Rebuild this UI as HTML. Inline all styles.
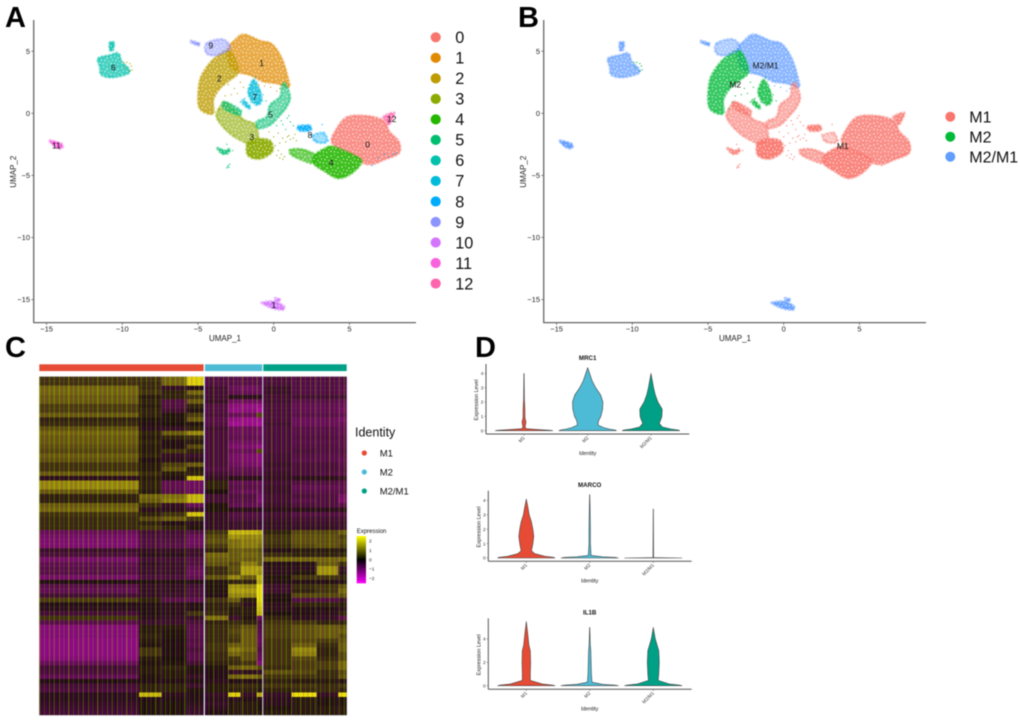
<!DOCTYPE html>
<html lang="en">
<head>
<meta charset="utf-8">
<title>UMAP clusters, heatmap and violin plots</title>
<style>
html,body{margin:0;padding:0;background:#fff;}
svg{display:block;font-family:"Liberation Sans",sans-serif;filter:blur(0.4px);}
</style>
</head>
<body>
<svg id="figure" xmlns="http://www.w3.org/2000/svg" width="1020" height="720" viewBox="0 0 1020 720">
  <defs>
    <pattern id="speck" patternUnits="userSpaceOnUse" width="11" height="11">
      <circle cx="1" cy="2" r=".6" fill="#fff"/><circle cx="4.5" cy="1" r=".5" fill="#fff"/>
      <circle cx="8" cy="3" r=".65" fill="#fff"/><circle cx="2.5" cy="5" r=".55" fill="#fff"/>
      <circle cx="6" cy="5.5" r=".6" fill="#fff"/><circle cx="9.8" cy="6.5" r=".5" fill="#fff"/>
      <circle cx="1" cy="8.4" r=".6" fill="#fff"/><circle cx="4.4" cy="8.8" r=".6" fill="#fff"/>
      <circle cx="7.8" cy="9.4" r=".55" fill="#fff"/>
    </pattern>
    <pattern id="stripes" patternUnits="userSpaceOnUse" width="29" height="9">
      <rect x="1" width="1" height="9" fill="#e0e000" opacity=".3"/><rect x="3" width="1.4" height="9" fill="#c000c0" opacity=".24"/>
      <rect x="5.5" width="1" height="9" fill="#e0e000" opacity=".2"/><rect x="8" width="1" height="9" fill="#c000c0" opacity=".2"/>
      <rect x="10" width="1.5" height="9" fill="#e0e000" opacity=".3"/><rect x="13" width="1" height="9" fill="#c000c0" opacity=".26"/>
      <rect x="15" width="1" height="9" fill="#e0e000" opacity=".22"/><rect x="17" width="1.5" height="9" fill="#c000c0" opacity=".2"/>
      <rect x="20" width="1" height="9" fill="#e0e000" opacity=".3"/><rect x="22" width="1" height="9" fill="#c000c0" opacity=".24"/>
      <rect x="24.5" width="1.4" height="9" fill="#e0e000" opacity=".24"/><rect x="27" width="1" height="9" fill="#c000c0" opacity=".22"/>
    </pattern>
    <linearGradient id="expr-gradient" x1="0" y1="0" x2="0" y2="1">
      <stop offset="0" stop-color="#ffff00"/><stop offset=".5" stop-color="#000"/><stop offset="1" stop-color="#ff00ff"/>
    </linearGradient>
  </defs>

  <text x="5" y="27" font-size="29" font-weight="bold">A</text>
  <text x="518" y="27" font-size="29" font-weight="bold">B</text>
  <text x="5" y="357" font-size="29" font-weight="bold">C</text>
  <text x="475" y="357" font-size="29" font-weight="bold">D</text>

  <g id="panel-a"></g>
  <g id="panel-b" transform="translate(510,0)"></g>
  <g id="panel-c"></g>
  <g id="panel-d"></g>
</svg>

<script>
// ---------- UMAP data (UMAP coordinates) ----------
const umapXTicks = [-15, -10, -5, 0, 5];
const umapYTicks = [5, 0, -5, -10, -15];
const clusterNames = ['0','1','2','3','4','5','6','7','8','9','10','11','12'];
const clusterColors = ['#F8766D','#E18A00','#BE9C00','#8CAB00','#24B700','#00BE70','#00C1AB','#00BBDA','#00ACFC','#8B93FF','#D575FE','#F962DD','#FF65AC'];
const identityNames = ['M1','M2','M2/M1'];
const identityColors = ['#F8766D','#00BA38','#619CFF'];
const clusterIdentity = [0,2,1,0,0,0,2,1,0,2,2,2,0];
const clusterRegions = [
  {cluster:0, density:.8, outline:[[4.82,-.32],[6.15,-.21],[7.25,-.59],[7.64,-1.47],[8.26,-2.28],[8.26,-3.22],[7.25,-3.75],[6.59,-4.08],[5.93,-4.02],[5.26,-3.35],[4.38,-2.95],[3.83,-2.28],[4.05,-1.47]]},
  {cluster:1, density:.72, outline:[[-2.67,5.76],[-2,6.35],[-.9,5.84],[-.13,5.58],[.53,4.42],[.97,2.68],[.97,2.09],[.2,2.41],[-.68,2.55],[-1.56,3.08],[-2.44,3.35],[-2.89,3.89],[-3.1,5.09]]},
  {cluster:2, density:.78, outline:[[-3.1,5.09],[-2.67,4.69],[-2.33,3.35],[-2.89,2.68],[-3.55,2.01],[-3.99,1.07],[-3.99,0],[-4.65,.13],[-4.98,.8],[-4.87,2.68],[-4.32,3.89],[-3.77,4.56]]},
  {cluster:3, density:.62, outline:[[-3.77,0],[-3.2,.85],[-2.5,.2],[-2,-.5],[-1.2,-.95],[-1.05,-2.14],[-1.67,-2.41],[-2,-2.28],[-2.78,-1.74],[-3.55,-.8]]},
  {cluster:3, density:.92, outline:[[-1.7,-2.35],[-.9,-2.05],[-.2,-2.25],[-.1,-3.08],[-.9,-3.66],[-1.7,-3.4]]},
  {cluster:4, density:.88, outline:[[2.73,-3.35],[3.39,-2.82],[3.94,-2.68],[5.26,-3.35],[5.81,-3.89],[5.15,-4.83],[4.27,-5.23],[3.39,-4.69],[2.62,-4.02]]},
  {cluster:4, density:.65, outline:[[1.08,-2.95],[1.85,-2.9],[2.73,-3.35],[2.62,-4.02],[1.85,-3.75],[1.19,-3.35]]},
  {cluster:5, density:.58, outline:[[.75,2.41],[1.08,1.34],[.86,.54],[.42,-.13],[-.24,-.94],[-1.01,-1.21],[-1.12,-.67],[-.46,-.27],[-.24,.67],[.42,1.34],[.53,2.14]]},
  {cluster:5, density:.65, outline:[[-3.28,.94],[-2.22,.27],[-2.33,-.13],[-3.28,.4]]},
  {cluster:5, density:.85, outline:[[-3.72,-2.8],[-3.2,-3],[-2.9,-2.85],[-3,-3.2],[-3.4,-3.25]]},
  {cluster:6, density:.72, outline:[[-11.59,4.42],[-10.81,4.69],[-10.26,4.83],[-10.04,4.16],[-9.6,3.62],[-9.6,3.22],[-10.59,2.9],[-11.37,3.08],[-11.48,3.75]]},
  {cluster:6, density:.85, outline:[[-10.83,5.68],[-10.55,5.68],[-10.62,5.09],[-10.81,5.09]]},
  {cluster:7, density:.8, outline:[[-1.34,2.68],[-1.01,2.14],[-.79,1.07],[-1.12,.67],[-1.56,1.21],[-1.67,1.88]]},
  {cluster:7, density:.8, outline:[[-2,1.07],[-1.56,.54],[-1.67,.4],[-2.05,.8]]},
  {cluster:8, density:.9, outline:[[1.63,-1.02],[2.4,-1.02],[2.4,-1.39],[1.69,-1.39]]},
  {cluster:8, density:.4, outline:[[2.6,-1.8],[3.3,-1.6],[3.5,-2.3],[2.8,-2.3]]},
  {cluster:9, density:.9, outline:[[-5.46,5.84],[-4.91,5.63],[-4.98,5.47],[-5.42,5.68]]},
  {cluster:9, density:.5, outline:[[-4.43,5.63],[-3.37,5.95],[-2.89,5.23],[-3.77,4.69],[-4.43,4.83]]},
  {cluster:10, density:.9, outline:[[-.75,-15.23],[-.02,-15.15],[.64,-15.5],[.6,-15.82],[-.13,-15.68],[-.68,-15.36]]},
  {cluster:10, density:.8, outline:[[.09,-14.88],[.46,-15.01],[.2,-15.15]]},
  {cluster:11, density:.95, outline:[[-14.78,-2.2],[-13.99,-2.47],[-14.03,-2.84],[-14.45,-2.68]]},
  {cluster:12, density:.85, outline:[[7.25,-.27],[7.95,.05],[7.8,-.54],[7.58,-.94],[7.47,-.67]]}
];
const strayCluster = [3,3,3,3,3,3,3,3,3,3,3,3,3,3,3,3,3,3,3, 5,5,5,5,5,5,5,5,5,5,5,5,5,5,5, 8,8,8,8,8,8,8,8,8,8,8,8,8, 7,7,7,7,7,7,7,7,7,7, 2,2,2,2,2,2,2,2,2, 1,1,1,1,1, 2,2,2,2,2,2,2];
const strayX = [.6,.9,1.1,1.3,1.5,.8,1,1.4,.2,.4,.5,.7,.3,.6,.1,.4,-.3,0,.3, .9,1.1,1.3,.6,.8,1,.2,.5,-3.1,-2.7,-3,-3.1,-2.9,-3.05,-2.95, 2,2.3,3.2,3.3,2.8,2.5,3.6,7.9,8.1,7.6,6.9,7.3,6.5, -1.2,-1.4,-.9,-.7,-1.6,-1.9,-2.2,-1,-.5,-1.5, -3,-2.6,-2.4,-2.8,-3.2,-2.2,-3.4,-3.6,-2, .4,-.2,-.6,-1,.2, -9.9,-9.7,-9.5,-9.4,-9.35,-9.5,-9.8];
const strayY = [-2,-1.9,-2.1,-2,-2.2,-2.3,-1.8,-1.7,-3.4,-3.6,-3.3,-3.5,-3,-3.7,-2.6,-2.4,-1.5,-1.9,-1.6, -.4,-.7,-1,-.9,-1.3,-.2,-1,-.6,-2.5,-3,-4.2,-4.4,-4.1,-4.3,-4.35, -1,-.9,-.9,-1.5,-2.2,-1.7,-2.2,-3.3,-3.2,-3.5,-3.6,-3.3,-4.2, 2.9,2.3,1.8,1.5,1.6,1.2,.9,.8,1,.9, 2.3,2,1.6,1.5,1.4,2.5,.9,.4,2.1, 2,2.1,2.2,2.3,1.8, 4.1,4.1,4,3.8,3.5,3.4,3.7];
const clusterLabelX = [6.2,-.8,-3.6,-1.45,3.8,-.2,-10.6,-1.25,2.4,-4.15,0,-14.35,7.8];
const clusterLabelY = [-2.5,4.05,2.8,-1.9,-3.95,-.1,3.7,1.3,-1.75,5.45,-15.45,-2.6,-.45];
const clusterLabelText = ['0','1','2','3','4','5','6','7','8','9','1','11','12'];
const identityLabelX = [3.9,-3.2,-1.2];
const identityLabelY = [-2.65,2.3,3.85];

// ---------- Heatmap data (scaled expression, read per row and column block) ----------
const heatmapTicks = [2, 1, 0, -1, -2];
const heatmapGroups = ['M1','M2','M2/M1'];
const heatmapRows = [
 [.5,.5,1,1.9,-.7,-.8,-.8,-.8,-.6,-.7,-.7,-.7],
 [.5,.4,1,1.9,-.7,-.8,-.8,-.8,-.6,-.7,-.7,-.7],
 [1,.4,-.3,-.1,-.5,-1,-1.1,-1,-.4,-.7,-.7,-.8],
 [1,.5,.3,1,-.5,-.9,-1,-1,-.4,-.7,-.7,-.8],
 [.9,.2,.3,.5,-.5,-.2,-.2,-.2,-.5,-.5,-.5,-.5],
 [.9,.3,-.7,.9,-.4,-1.1,-1.1,-1.1,-.5,-.8,-.8,-.9],
 [.6,.2,-.7,.3,-.7,-1.5,-1.6,-1.7,-.6,-.9,-.9,-1],
 [.6,.3,-.5,.1,-.7,-1.6,-1.5,-1.9,-.6,-.9,-.9,-1.1],
 [.9,.3,.1,.6,-.6,-1,-1,.7,-.6,-.8,-.8,-.9],
 [.3,.1,.1,.9,-.8,-1.6,-1.7,-1.7,-.6,-1,-1,-1.2],
 [.4,-.1,0,.1,-.7,-1.8,-1.7,-1.9,-.5,-1,-1,-1],
 [.8,-.2,-.3,.3,-.5,-1,-1,-1.1,-.6,-.8,-.8,-.9],
 [1,.3,.9,1.3,-.6,-1,-1,-1.2,-.6,-.8,-.8,-.9],
 [.9,.2,.3,.4,-.6,-.9,-.9,-1,-.6,-.7,-.7,-.8],
 [.9,.3,-.1,.2,-.6,-1.1,-1.1,-1.2,-.6,-.8,-.8,-.8],
 [.8,.2,-.1,.7,-.6,-1.3,-1.3,-1.6,-.6,-.7,-.7,-.8],
 [.7,.2,.5,.3,-.6,-1,-1,.7,-.6,-.6,-.7,-.7],
 [.9,.3,-.3,-.4,-.6,-1.2,-1.3,-1.5,-.5,-.7,-.8,-.8],
 [.8,-.1,-.2,-.2,-.6,-1.2,-1.3,-1.5,-.5,-.8,-.8,-.9],
 [.5,.2,.6,.9,-.6,-1.1,-1.2,-1.4,-.4,-.6,-.6,-.8],
 [.5,.2,.8,.2,-.7,-.9,-.9,-1,-.5,-.6,-.6,-.7],
 [.9,.4,.2,.3,-.5,-.8,-.8,-.9,-.4,-.6,-.7,-.8],
 [-.2,.2,-.1,1.8,-.3,-.2,-.2,-.2,-.3,-.2,-.2,-.3],
 [1.3,.3,-.9,-1.1,.3,-.9,-.9,-1,-.5,-.7,-.7,-.8],
 [1.3,.3,-.9,-1.1,.3,-.8,-.8,-.9,-.4,-.9,-.9,-.9],
 [.9,.2,-.8,-1,0,-.9,-1,-1,-.4,-.8,-.8,-.8],
 [.3,1,1.1,1.7,-.5,-.7,-.7,-1.2,-.5,-.6,-.7,-1.2],
 [.3,.9,1.2,1.7,-.5,-.8,-.8,-1.3,-.5,-.8,-.7,-1.3],
 [.9,.4,-.3,-1,.1,-.9,-.9,-1,-.4,-.6,-.7,-.8],
 [1,-.2,-.2,-.4,.1,-.2,-.2,-.2,-.2,-.2,-.2,-.2],
 [.5,.3,.5,1.8,-.3,-.7,-.7,-.7,-.5,-.7,-.7,-.7],
 [.4,.7,.9,.5,-.3,-.6,-.6,-.6,-.4,-.5,-.5,-.5],
 [.4,.3,-.1,-.2,-.3,-.4,-.4,-.4,-.3,-.4,-.4,-.4],
 [.4,.5,.3,.1,-.3,-.4,-.4,-.5,-.3,-.3,-.3,-.4],
 [-1,-.5,-.5,-.7,.5,1.7,1.7,1.6,.3,.7,.7,.9],
 [-1.2,-.6,-.6,-1,.7,1.4,1.3,1.3,.5,.8,.8,.6],
 [-1.3,-.7,-.7,-1.1,.8,1.1,1.2,1.2,.5,.8,.8,.7],
 [-1.3,-.7,-.8,-1,.6,1.1,1.2,1.1,.4,.7,.8,.6],
 [-.4,-.3,-.3,-.4,.3,.9,.9,.8,-.1,.2,.2,.1],
 [-.6,-.2,-.2,-.4,1,.9,1,.9,.4,.3,.3,.3],
 [-1.2,-.5,-.5,-.7,.9,.9,.9,.9,1,1,1,1],
 [-.9,-.3,-.4,-.7,.8,.7,1.2,.9,-.1,-.1,.9,.4],
 [-.8,-.4,-.4,-.9,.4,.8,1.5,1.5,-.2,-.2,1.4,-.3],
 [-.8,-.4,-.4,-1,.4,.7,1.5,1.4,-.2,.1,1.4,-.2],
 [-1.2,-.6,-.6,-.9,.8,1.3,.9,1.7,.1,.5,.5,.3],
 [-.1,-.1,-.1,-.1,.1,.3,.3,1.6,-.1,-.1,-.1,-.1],
 [-.8,-.3,-.3,-.5,.1,1.4,1.3,2,-.4,.4,.5,.8],
 [-.9,-.3,-.3,-.6,.1,1.5,1.5,2,-.4,.3,.5,1],
 [-.5,-.3,-.4,-.6,-.1,1.3,1.3,2,-.1,.7,.7,.8],
 [.6,.3,-.8,-.9,.5,.9,.2,2,0,-.7,-.7,-.4],
 [-.1,-.1,-.2,-.1,.3,.4,-.2,1.9,-.2,.3,.3,.2],
 [-.2,-.1,-.2,-.1,.3,.2,.2,1.8,-.2,-.1,-.1,-.2],
 [-.5,-.1,-.2,.5,.4,.2,.2,1.7,0,-.1,-.2,.3],
 [.5,-.2,-.3,-.3,1.1,-.4,.1,-1,.3,-.2,-.3,-.8],
 [-.8,-.4,-.4,-.6,.3,.4,.3,-.6,.5,.5,.3,.3],
 [-1.4,.2,.2,-.8,.4,.6,.8,-.7,.6,.8,.9,.8],
 [-1.4,.2,.1,-.8,.4,.7,.9,-.8,.6,.8,.9,.9],
 [-1.4,.3,.1,-.8,.4,.6,.9,-.9,.6,.8,.9,.7],
 [-1.5,.2,-.05,-.7,.4,.5,.9,-1,.5,.7,.6,.8],
 [-1.5,.1,-.1,-.8,.5,.9,.9,-.9,.5,.9,.4,.9],
 [-1.5,.5,-.05,-.6,.5,1.2,1,-.7,.5,1.3,.3,.9],
 [-1.5,.5,-.1,-.8,.4,1,.8,-.9,.5,1.2,.3,.7],
 [-1.4,.2,0,-.8,.4,.5,.8,-1,.5,.7,.4,.7],
 [-1,.1,.1,-.5,.3,.4,.5,-1.4,.5,.6,.6,1],
 [-.5,.2,.3,.1,.1,.9,1,.7,.4,.6,.6,1],
 [-.6,.2,.2,-.1,-.1,-.3,-.2,-.3,.8,.7,.4,.7],
 [-.9,.1,.2,-.3,-.1,1,1.1,.9,.5,.5,.4,.8],
 [-.1,-.1,-.1,-.1,-.2,-.1,-.1,-.1,.3,.2,.2,-.1],
 [-.5,.3,.3,-.4,.2,.4,.4,.3,.5,.5,.4,.5],
 [-.6,.3,.3,.1,.2,.3,.3,.2,.3,.4,.4,.3],
 [-.2,1.7,-.2,-.1,-.3,1.9,-.3,1.6,-.3,2,-.3,2],
 [-.2,-.1,-.1,-.1,-.2,-.2,-.1,-.2,-.2,.2,.1,.1],
 [-.3,.1,.1,-.2,-.3,.2,.2,.1,-.2,.2,.1,.1],
 [-.4,.1,.1,-.3,-.2,.2,.2,.1,.1,.2,.2,.2],
 [-.5,.1,.1,-.4,-.1,.2,.2,.2,.2,.2,.2,.2]
];

// ---------- Violin data: [expression level, relative half width] ----------
const violinGroups = ['M1','M2','M2/M1'];
const violinColors = ['#E64B35','#4DBBD5','#00A087'];
const mrc1Ticks = [0,1,2,3,4];
const mrc1M1 = [[0,1],[.03,.92],[.08,.5],[.14,.08],[.25,.04],[.6,.07],[.9,.035],[1.5,.03],[2.2,.014],[4,.004]];
const mrc1M2 = [[0,1],[.05,.95],[.12,.75],[.22,.55],[.4,.36],[.7,.38],[1,.46],[1.5,.52],[2,.53],[2.5,.45],[3,.28],[3.5,.15],[4.4,0]];
const mrc1M21 = [[0,1],[.05,.95],[.12,.7],[.25,.4],[.5,.29],[.8,.35],[1,.38],[1.5,.39],[2,.24],[2.5,.15],[3,.09],[4,0]];
const marcoTicks = [0,1,2,3,4];
const marcoM1 = [[0,1],[.05,.95],[.12,.65],[.3,.3],[.5,.18],[1,.23],[1.5,.26],[2,.23],[2.5,.18],[3,.1],[3.5,.06],[4.1,0]];
const marcoM2 = [[0,1],[.04,.9],[.08,.45],[.18,.05],[1,.025],[2,.025],[3,.018],[4.4,.004]];
const marcoM21 = [[0,1],[.03,.01],[3.4,.005]];
const il1bTicks = [0,2,4];
const il1bM1 = [[0,1],[.06,.9],[.15,.55],[.45,.14],[1,.14],[2,.15],[3,.14],[3.5,.09],[4.5,.05],[5.5,0]];
const il1bM2 = [[0,1],[.06,.85],[.12,.45],[.3,.08],[1,.06],[2,.05],[3,.04],[3.5,.02],[5,.003]];
const il1bM21 = [[0,1],[.06,.9],[.15,.55],[.45,.17],[1,.19],[2,.21],[3,.19],[4,.07],[5,0]];

// ---------- Helpers ----------
const SVG_NS = 'http://www.w3.org/2000/svg';
function make(tag, parent, attrs, text) {
  const node = document.createElementNS(SVG_NS, tag);
  for (const key in attrs) node.setAttribute(key, attrs[key]);
  if (text !== undefined) node.textContent = text;
  parent.appendChild(node);
  return node;
}
const umapX = v => 273.7 + 15.14 * v;
const umapY = v => 113.3 - 12.42 * v;
function smoothPath(outline) {
  const pts = outline.map(p => [umapX(p[0]), umapY(p[1])]);
  const n = pts.length;
  let d = 'M' + pts[0][0].toFixed(1) + ' ' + pts[0][1].toFixed(1);
  for (let i = 0; i < n; i++) {
    const p0 = pts[(i - 1 + n) % n], p1 = pts[i], p2 = pts[(i + 1) % n], p3 = pts[(i + 2) % n];
    const c1x = p1[0] + (p2[0] - p0[0]) / 6, c1y = p1[1] + (p2[1] - p0[1]) / 6;
    const c2x = p2[0] - (p3[0] - p1[0]) / 6, c2y = p2[1] - (p3[1] - p1[1]) / 6;
    d += 'C' + c1x.toFixed(1) + ' ' + c1y.toFixed(1) + ' ' + c2x.toFixed(1) + ' ' + c2y.toFixed(1) + ' ' + p2[0].toFixed(1) + ' ' + p2[1].toFixed(1);
  }
  return d + 'Z';
}

function drawUmapAxes(g) {
  const yAxis = make('line', g, {x1:33.7, y1:20, x2:33.7, y2:322.6, stroke:'#666', 'stroke-width':1.3});
  
  
  const xAxis = make('line', g, {x1:33.2, y1:322.6, x2:416, y2:322.6, stroke:'#666', 'stroke-width':1.3});
  
  
  umapXTicks.forEach(t => {
    const mark = make('line', g, {x1:umapX(t), y1:322.6, x2:umapX(t), y2:325, stroke:'#555', 'stroke-width':.7});
    
    
    const label = make('text', g, {x:umapX(t), y:331.5, 'font-size':7.5, 'text-anchor':'middle', fill:'#222'}, String(t).replace('-', '\u2212'));
    
    
  });
  umapYTicks.forEach(t => {
    const mark = make('line', g, {x1:31.3, y1:umapY(t), x2:33.7, y2:umapY(t), stroke:'#555', 'stroke-width':.7});
    
    
    const label = make('text', g, {x:30, y:umapY(t) + 2.6, 'font-size':7.5, 'text-anchor':'end', fill:'#222'}, String(t).replace('-', '\u2212'));
    
    
  });
  const xTitle = make('text', g, {x:225, y:341, 'font-size':8, 'text-anchor':'middle', fill:'#222'}, 'UMAP_1');
  
  
  const yTitle = make('text', g, {x:0, y:0, 'font-size':8, 'text-anchor':'middle', fill:'#222', transform:'translate(16,171.7) rotate(-90)'}, 'UMAP_2');
  
  
}

function drawUmapMarks(g, colorFor) {
  clusterRegions.forEach(region => {
    const color = colorFor(region.cluster);
    const d = smoothPath(region.outline);
    const halo = make('path', g, {d:d, fill:'none', stroke:color, 'stroke-width':2.8, 'stroke-dasharray':'.8 3', 'stroke-linecap':'round', 'stroke-opacity':.45});
    
    
    const blob = make('path', g, {d:d, fill:color, 'fill-opacity':region.density});
    
    
    const texture = make('path', g, {d:d, fill:'url(#speck)'});
    
    
  });
  strayX.forEach((x, i) => {
    const dot = make('circle', g, {cx:umapX(x), cy:umapY(strayY[i]), r:.6, fill:colorFor(strayCluster[i])});
    
    
  });
}

// ---------- Panel A ----------
const panelA = document.getElementById('panel-a');
drawUmapAxes(panelA);
drawUmapMarks(panelA, c => clusterColors[c]);
clusterLabelText.forEach((name, i) => {
  const label = make('text', panelA, {x:umapX(clusterLabelX[i]), y:umapY(clusterLabelY[i]) + 3, 'font-size':8.5, 'text-anchor':'middle', fill:'#111'}, name);
  
  
});
clusterNames.forEach((name, i) => {
  const rowY = 37.3 + i * 20.52;
  const dot = make('circle', panelA, {cx:435.7, cy:rowY, r:5.1, fill:clusterColors[i]});
  
  
  const label = make('text', panelA, {x:455.2, y:rowY + 5.8, 'font-size':16.3, fill:'#111'}, name);
  
  
});

// ---------- Panel B ----------
const panelB = document.getElementById('panel-b');
drawUmapAxes(panelB);
drawUmapMarks(panelB, c => identityColors[clusterIdentity[c]]);
identityNames.forEach((name, i) => {
  const label = make('text', panelB, {x:umapX(identityLabelX[i]), y:umapY(identityLabelY[i]) + 3, 'font-size':8.5, 'text-anchor':'middle', fill:'#111'}, name);
  
  
  const rowY = 116.7 + i * 20;
  const dot = make('circle', panelB, {cx:440.3, cy:rowY, r:5, fill:identityColors[i]});
  
  
  const entry = make('text', panelB, {x:459.3, y:rowY + 5.8, 'font-size':16, fill:'#111'}, name);
  
  
});

// ---------- Panel C ----------
const panelC = document.getElementById('panel-c');
const heatTop = 376.7, heatBottom = 715;
const colEdges = [39.3,139,161.7,186.7,203.6, 205,228.3,240.7,256.7,262.2, 263.3,291.7,316.7,338.3,346.7];
const blockCols = [[0,1],[1,2],[2,3],[3,4],[5,6],[6,7],[7,8],[8,9],[10,11],[11,12],[12,13],[13,14]];
const groupSpans = [[39.3,203.6],[205,262.2],[263.3,346.7]];
const rowHeight = (heatBottom - heatTop) / heatmapRows.length;
function heatColor(v) {
  if (v >= 0) {
    const up = Math.round(Math.min(1, Math.pow(v / 2, 1.25)) * 255);
    return 'rgb(' + up + ',' + up + ',0)';
  }
  const down = Math.round(Math.min(1, -v * .36) * 255);
  return 'rgb(' + down + ',0,' + down + ')';
}
const heatRowY = r => heatTop + r * rowHeight;
make('rect', panelC, {x:39, y:376.2, width:308.2, height:339.3, fill:'#ddd'});
heatmapRows.forEach((row, r) => {
  row.forEach((value, c) => {
    const span = blockCols[c];
    const cell = make('rect', panelC, {x:colEdges[span[0]], y:heatRowY(r), width:colEdges[span[1]] - colEdges[span[0]], height:rowHeight + .15, fill:heatColor(value)});
    
    
  });
});
groupSpans.forEach((span, i) => {
  const wash = make('rect', panelC, {x:span[0], y:heatTop, width:span[1] - span[0], height:heatBottom - heatTop, fill:'#6a4a3a', opacity:.14});
  
  
  const texture = make('rect', panelC, {x:span[0], y:heatTop, width:span[1] - span[0], height:heatBottom - heatTop, fill:'url(#stripes)'});
  
  
  const bar = make('rect', panelC, {x:span[0], y:364.3, width:span[1] - span[0], height:6.8, fill:violinColors[i]});
  
  
});
const identityTitle = make('text', panelC, {x:355, y:436.5, 'font-size':12.5, fill:'#111'}, 'Identity');


heatmapGroups.forEach((name, i) => {
  const rowY = 453 + i * 19;
  const dot = make('circle', panelC, {cx:364.3, cy:rowY, r:2.6, fill:violinColors[i]});
  
  
  const label = make('text', panelC, {x:379.7, y:rowY + 3.4, 'font-size':9.5, fill:'#111'}, name);
  
  
});
const exprTitle = make('text', panelC, {x:356.7, y:532.8, 'font-size':6, fill:'#111'}, 'Expression');


const exprBar = make('rect', panelC, {x:356.7, y:536, width:9.3, height:47.3, fill:'url(#expr-gradient)'});


heatmapTicks.forEach(t => {
  const label = make('text', panelC, {x:369, y:559.7 - 9.33 * t + 1.7, 'font-size':4.8, fill:'#222'}, String(t).replace('-', '\u2212'));
  
  
});

// ---------- Panel D ----------
const panelD = document.getElementById('panel-d');
function drawViolinPlot(title, profiles, ticks, frame) {
  const levelY = v => frame.zeroY - frame.unit * v;
  const g = make('g', panelD, {});
  
  
  profiles.forEach((profile, i) => {
    const cx = frame.centers[i];
    const halfWidth = p => p[1] * 28.7;
    const right = profile.map(p => (cx + halfWidth(p)).toFixed(1) + ',' + levelY(p[0]).toFixed(1));
    const left = profile.slice().reverse().map(p => (cx - halfWidth(p)).toFixed(1) + ',' + levelY(p[0]).toFixed(1));
    const violin = make('polygon', g, {points:right.concat(left).join(' '), fill:violinColors[i], stroke:'#444', 'stroke-width':.6, 'stroke-linejoin':'round'});
    
    
    const tick = make('line', g, {x1:cx, y1:frame.axisY, x2:cx, y2:frame.axisY + 1.6, stroke:'#555', 'stroke-width':.5});
    
    
    const label = make('text', g, {x:0, y:0, 'font-size':4.8, 'text-anchor':'end', fill:'#333', transform:'translate(' + (cx + 1.2) + ',' + (frame.axisY + 4.2) + ') rotate(-45)'}, violinGroups[i]);
    
    
  });
  const yAxis = make('line', g, {x1:frame.axisX, y1:frame.top, x2:frame.axisX, y2:frame.axisY, stroke:'#555', 'stroke-width':1});
  
  
  const xAxis = make('line', g, {x1:frame.axisX, y1:frame.axisY, x2:frame.axisX + 203.3, y2:frame.axisY, stroke:'#555', 'stroke-width':1});
  
  
  ticks.forEach(t => {
    const mark = make('line', g, {x1:frame.axisX - 1.5, y1:levelY(t), x2:frame.axisX, y2:levelY(t), stroke:'#555', 'stroke-width':.5});
    
    
    const label = make('text', g, {x:frame.axisX - 2.6, y:levelY(t) + 1.7, 'font-size':4.8, 'text-anchor':'end', fill:'#333'}, String(t));
    
    
  });
  const heading = make('text', g, {x:frame.centers[1], y:frame.titleY + 2.2, 'font-size':6.2, 'font-weight':'bold', 'text-anchor':'middle', fill:'#111'}, title);
  
  
  const xTitle = make('text', g, {x:frame.centers[1], y:frame.axisY + 21, 'font-size':5.4, 'text-anchor':'middle', fill:'#222'}, 'Identity');
  
  
  const yTitle = make('text', g, {x:0, y:0, 'font-size':5.4, 'text-anchor':'middle', fill:'#222', transform:'translate(' + (frame.axisX - 8) + ',' + ((frame.top + frame.axisY) / 2 + 1) + ') rotate(-90)'}, 'Expression Level');
  
  
}
drawViolinPlot('MRC1', [mrc1M1, mrc1M2, mrc1M21], mrc1Ticks, {axisX:486, axisY:434, top:364, zeroY:430.7, unit:14.33, centers:[524,587.7,651], titleY:357.7});
drawViolinPlot('MARCO', [marcoM1, marcoM2, marcoM21], marcoTicks, {axisX:488.3, axisY:561.3, top:490.7, zeroY:558, unit:14.4, centers:[526.3,589.7,653.3], titleY:484.7});
drawViolinPlot('IL1B', [il1bM1, il1bM2, il1bM21], il1bTicks, {axisX:488.3, axisY:689.3, top:618.3, zeroY:685.7, unit:11.67, centers:[526.3,589.7,653.3], titleY:612.3});
</script>
</body>
</html>
